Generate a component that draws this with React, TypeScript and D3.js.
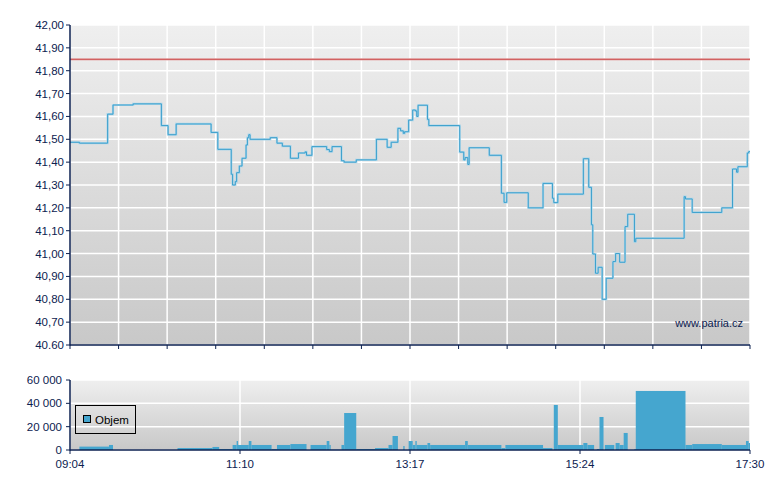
import * as d3 from "d3";

// ─── Data ─────────────────────────────────────────────────────────────────────

// Price trades (step line), time "HH:MM" → price
const PRICE_TIMES = [
  "09:04", "09:11", "09:32", "09:36", "09:51", "10:12", "10:17", "10:23",
  "10:49", "10:54", "11:04", "11:05", "11:07", "11:08", "11:10", "11:12",
  "11:15", "11:16", "11:17", "11:18", "11:33", "11:38", "11:42", "11:48",
  "11:54", "11:59", "12:00", "12:04", "12:15", "12:17", "12:19", "12:26",
  "12:28", "12:37", "12:52", "13:00", "13:03", "13:08", "13:10", "13:12",
  "13:13", "13:16", "13:19", "13:21", "13:22", "13:23", "13:30", "13:31",
  "13:54", "13:57", "13:58", "14:00", "14:01", "14:16", "14:25", "14:27",
  "14:29", "14:45", "14:56", "15:03", "15:04", "15:07", "15:26", "15:30",
  "15:32", "15:33", "15:35", "15:37", "15:40", "15:43", "15:48", "15:50",
  "15:53", "15:57", "15:59", "16:04", "16:05", "16:41", "16:42", "16:47",
  "17:09", "17:17", "17:20", "17:21", "17:28", "17:29", "17:30",
];
const PRICE_VALUES = [
  41.487, 41.483, 41.61, 41.65, 41.655, 41.56, 41.52, 41.567,
  41.53, 41.456, 41.347, 41.30, 41.315, 41.354, 41.383, 41.417,
  41.475, 41.507, 41.52, 41.50, 41.507, 41.483, 41.47, 41.417,
  41.44, 41.445, 41.43, 41.468, 41.455, 41.446, 41.468, 41.406,
  41.40, 41.41, 41.50, 41.465, 41.487, 41.548, 41.537, 41.526,
  41.533, 41.584, 41.628, 41.624, 41.60, 41.649, 41.587, 41.56,
  41.444, 41.41, 41.42, 41.39, 41.463, 41.43, 41.264, 41.224,
  41.266, 41.20, 41.307, 41.242, 41.223, 41.26, 41.415, 41.29,
  41.126, 40.998, 40.914, 40.94, 40.80, 40.892, 40.965, 41.00,
  40.962, 41.118, 41.172, 41.052, 41.067, 41.249, 41.239, 41.18,
  41.20, 41.37, 41.356, 41.38, 41.44, 41.446, 41.446,
];

// Reference line (previous close)
const REF_PRICE = 41.85;

// Volume blocks: each runs from its start time to the next start time
const VOL_TIMES = [
  "09:11", "09:33", "09:36", "10:24", "10:50", "10:55", "11:05", "11:08",
  "11:09", "11:17", "11:19", "11:34", "11:38", "11:48", "12:00", "12:03",
  "12:15", "12:17", "12:18", "12:26", "12:28", "12:37", "12:51", "13:01",
  "13:04", "13:08", "13:12", "13:13", "13:16", "13:19", "13:21", "13:22",
  "13:30", "13:32", "13:58", "14:00", "14:25", "14:28", "14:56", "15:03",
  "15:04", "15:07", "15:26", "15:29", "15:34", "15:36", "15:38", "15:41",
  "15:42", "15:49", "15:50", "15:53", "15:56", "15:59", "16:04", "16:05",
  "16:42", "16:47", "17:09", "17:27", "17:29", "17:30",
];
const VOL_VALUES = [
  2900, 4300, 0, 1700, 2600, 850, 4300, 7700,
  4300, 7700, 4300, 850, 4300, 5100, 0, 4300,
  7700, 4300, 300, 4300, 31700, 850, 1700, 4300,
  12000, 0, 3400, 0, 7700, 4300, 7700, 4300,
  6000, 4300, 7700, 4300, 1700, 4300, 1700, 0,
  38600, 4300, 6000, 4300, 0, 850, 28300, 0,
  4300, 0, 6000, 4300, 14600, 0, 850, 50600,
  4300, 5100, 4300, 7700, 6000, 0,
];

const PRICE_TICKS = [40.6, 40.7, 40.8, 40.9, 41.0, 41.1, 41.2, 41.3, 41.4, 41.5, 41.6, 41.7, 41.8, 41.9, 42.0];
const PRICE_TICK_LABELS = [
  "40.60", "40,70", "40,80", "40,90", "41,00", "41,10", "41,20", "41,30",
  "41,40", "41,50", "41,60", "41,70", "41,80", "41,90", "42,00",
];
const VOL_TICKS = [0, 20000, 40000, 60000];
const VOL_TICK_LABELS = ["0", "20 000", "40 000", "60 000"];
const TIME_TICK_LABELS = ["09:04", "11:10", "13:17", "15:24", "17:30"];

// ─── Palette ──────────────────────────────────────────────────────────────────

const NAVY = "#0c2150";
const BLUE = "#45a6cf";
const LINE = "#3a9fcc";
const RED = "#c43030";
const FONT = "'Liberation Sans', Arial, sans-serif";

const toMin = (t: string) => {
  const [h, m] = t.split(":").map(Number);
  return h * 60 + m;
};

export default function App() {
  const W = 780;
  const H = 490;
  const left = 70;
  const right = 750;
  const mainTop = 25;
  const mainBottom = 345;
  const volTop = 380;
  const volBottom = 450;

  const t0 = toMin("09:04");
  const t1 = toMin("17:30");
  const x = d3.scaleLinear().domain([t0, t1]).range([left, right]);
  const y = d3.scaleLinear().domain([40.6, 42.0]).range([mainBottom, mainTop]);
  const yv = d3.scaleLinear().domain([0, 60000]).range([volBottom, volTop]);

  const pricePts = PRICE_TIMES.map((t, i) => [toMin(t), PRICE_VALUES[i]] as [number, number]);
  const line = d3
    .line<[number, number]>()
    .x((d) => x(d[0]))
    .y((d) => y(d[1]))
    .curve(d3.curveStepAfter);
  const pricePath = line(pricePts) ?? "";

  // Main chart vertical grid: 14 even intervals
  const mainXTicks = d3.range(15).map((k) => t0 + (k * (t1 - t0)) / 14);
  // Volume chart ticks: 4 even intervals
  const volXTicks = d3.range(5).map((k) => t0 + (k * (t1 - t0)) / 4);

  const bars = VOL_TIMES.slice(0, -1).map((t, i) => ({
    x0: toMin(t),
    x1: toMin(VOL_TIMES[i + 1]),
    v: VOL_VALUES[i],
  }));

  return (
    <div style={{ position: "absolute", left: 0, top: 0, width: W, height: H, background: "#fff" }}>
      <svg width={W} height={H} style={{ display: "block" }} fontFamily={FONT}>
        <defs>
          <linearGradient id="bgMain" x1="0" y1="0" x2="0" y2="1">
            <stop offset="0%" stopColor="#efefef" />
            <stop offset="100%" stopColor="#c8c8c8" />
          </linearGradient>
          <linearGradient id="bgVol" x1="0" y1="0" x2="0" y2="1">
            <stop offset="0%" stopColor="#efefef" />
            <stop offset="100%" stopColor="#c8c8c8" />
          </linearGradient>
        </defs>

        {/* ── Price panel ───────────────────────────────────────────── */}
        <rect x={left} y={mainTop} width={right - left} height={mainBottom - mainTop} fill="url(#bgMain)" />
        {PRICE_TICKS.map((v) => (
          <line key={"hg" + v} x1={left} x2={right} y1={y(v)} y2={y(v)} stroke="#fff" strokeWidth={1.5} />
        ))}
        {mainXTicks.map((t, i) => (
          <line key={"vg" + i} x1={x(t)} x2={x(t)} y1={mainTop} y2={mainBottom} stroke="#fff" strokeWidth={1.5} />
        ))}

        <line x1={left} x2={right} y1={y(REF_PRICE)} y2={y(REF_PRICE)} stroke="#e6b4b4" strokeWidth={2.2} />
        <line x1={left} x2={right} y1={y(REF_PRICE)} y2={y(REF_PRICE)} stroke={RED} strokeWidth={0.8} />

        <path d={pricePath} fill="none" stroke="#acd6ea" strokeWidth={2.2} />
        <path d={pricePath} fill="none" stroke={LINE} strokeWidth={1} />

        <text x={743} y={327} textAnchor="end" fontSize={11} fill={NAVY}>
          www.patria.cz
        </text>

        {/* axes */}
        <line x1={left} x2={left} y1={mainTop} y2={mainBottom + 0.5} stroke={NAVY} strokeWidth={1.5} />
        <line x1={left} x2={right} y1={mainBottom} y2={mainBottom} stroke={NAVY} strokeWidth={1.5} />
        {PRICE_TICKS.map((v, i) => (
          <g key={"yt" + v}>
            <line x1={left - 4} x2={left} y1={y(v)} y2={y(v)} stroke={NAVY} strokeWidth={1} />
            <text x={left - 6} y={y(v) + 4} textAnchor="end" fontSize={11.5} fill={NAVY}>
              {PRICE_TICK_LABELS[i]}
            </text>
          </g>
        ))}
        {mainXTicks.map((t, i) => (
          <line key={"xt" + i} x1={x(t)} x2={x(t)} y1={mainBottom} y2={mainBottom + 4} stroke={NAVY} strokeWidth={1} />
        ))}

        {/* ── Volume panel ──────────────────────────────────────────── */}
        <rect x={left} y={volTop} width={right - left} height={volBottom - volTop} fill="url(#bgVol)" />
        {VOL_TICKS.map((v) => (
          <line key={"vh" + v} x1={left} x2={right} y1={yv(v)} y2={yv(v)} stroke="#fff" strokeWidth={1.5} />
        ))}
        {volXTicks.map((t, i) => (
          <line key={"vv" + i} x1={x(t)} x2={x(t)} y1={volTop} y2={volBottom} stroke="#fff" strokeWidth={1.5} />
        ))}

        {bars
          .filter((b) => b.v > 0)
          .map((b, i) => (
            <rect
              key={"b" + i}
              x={x(b.x0)}
              y={yv(b.v)}
              width={Math.max(1, x(b.x1) - x(b.x0))}
              height={volBottom - yv(b.v)}
              fill={BLUE}
            />
          ))}

        {/* legend */}
        <rect x={75.5} y={405.5} width={60} height={28} fill="none" stroke="#000" strokeWidth={1} />
        <rect x={83.5} y={415.5} width={7} height={7} fill={BLUE} stroke="#000" strokeWidth={1} />
        <text x={95} y={424} fontSize={11.5} fill="#000">
          Objem
        </text>

        <line x1={left} x2={left} y1={volTop} y2={volBottom + 0.5} stroke={NAVY} strokeWidth={1.5} />
        <line x1={left} x2={right} y1={volBottom} y2={volBottom} stroke={NAVY} strokeWidth={1.5} />
        {VOL_TICKS.map((v, i) => (
          <g key={"vyt" + v}>
            <line x1={left - 4} x2={left} y1={yv(v)} y2={yv(v)} stroke={NAVY} strokeWidth={1} />
            <text x={left - 8} y={yv(v) + 4} textAnchor="end" fontSize={11.5} fill={NAVY}>
              {VOL_TICK_LABELS[i]}
            </text>
          </g>
        ))}
        {volXTicks.map((t, i) => (
          <g key={"vxt" + i}>
            <line x1={x(t)} x2={x(t)} y1={volBottom} y2={volBottom + 4} stroke={NAVY} strokeWidth={1} />
            <text x={x(t)} y={468} textAnchor="middle" fontSize={11.5} fill={NAVY}>
              {TIME_TICK_LABELS[i]}
            </text>
          </g>
        ))}
      </svg>
    </div>
  );
}
